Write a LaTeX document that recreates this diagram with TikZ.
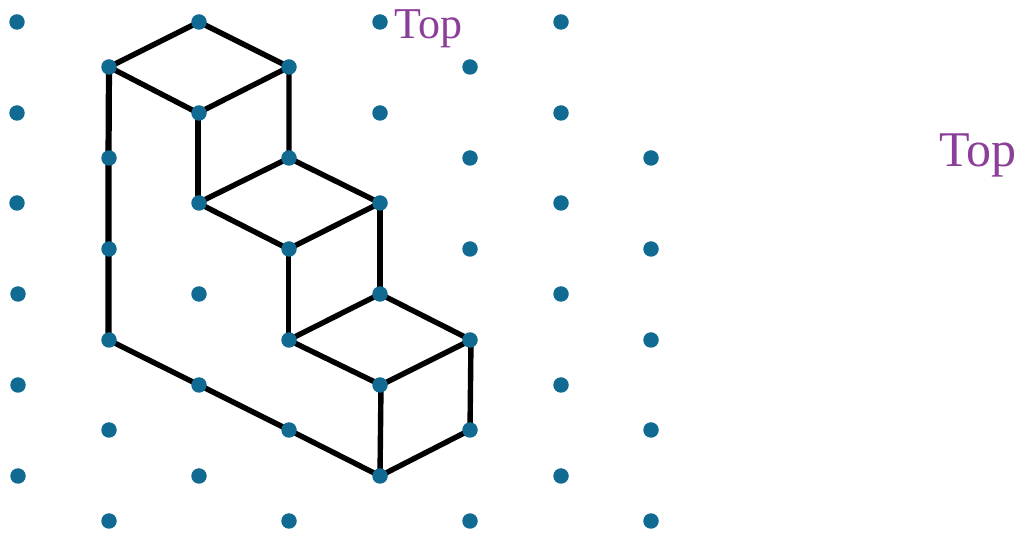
\documentclass[tikz,border=0pt]{standalone}
\usepackage{fontspec}
\setmainfont{Liberation Serif}
\definecolor{dotc}{HTML}{116A92}
\definecolor{topc}{HTML}{8B3F98}
\tikzset{x=1pt,y=-1pt,
  gdot/.style={circle,fill=dotc,inner sep=0pt,minimum size=15.5pt},
  edge/.style={draw=black,line width=5.4pt,line cap=round,line join=round},
  thickedge/.style={edge,line width=6.2pt},
  toplabel/.style={text=topc,inner sep=0pt}}
\begin{document}
\begin{tikzpicture}
\useasboundingbox (0,0) rectangle (1021,534);
\foreach \n/\x/\y in {
 a/199/22,b/109/67,c/289/67,d/198/113,e/108.5/158,f/289/158,g/198/203,h/380/203,
 i/108.5/249,j/288.5/249,k/380/294,l/108.5/340,m/288.5/340,n/471/340,o/199/385,p/381/385,
 q/289/430,r/470/430,s/380/476}
 {\coordinate (\n) at (\x,\y);}
\draw[edge] (a)--(c)--(d)--(b)--(a);
\draw[thickedge] (b)--(e)--(i)--(l);
\draw[edge] (l)--(o)--(q)--(s)--(r)--(n)--(k)--(m)--(p)--(n);
\draw[edge] (p)--(s);
\draw[edge] (c)--(f)--(h)--(j)--(g)--(f);
\draw[thickedge] (d)--(g);
\draw[edge] (j)--(m);
\draw[edge] (h)--(k);
\foreach \x/\y in {
 17/22,199/22,380/22,561/22,
 109/67,289/67,470/67,
 17/113,199/113,380/113,561/113,
 109/158,289/158,470/158,651/158,
 17/203,199/203,380/203,561/203,
 109/249,289/249,470/249,651/249,
 18/294,199/294,380/294,561/294,
 109/340,289/340,470/340,651/340,
 18/385,199/385,380/385,561/385,
 109/430,289/430,470/430,651/430,
 18/476,199/476,380/476,561/476,
 109/521,289/521,470/521,651/521}
 {\node[gdot] (dot\x-\y) at (\x,\y) {};}
\node[toplabel,font=\fontsize{44}{44}\selectfont] (top1) at (428.5,29) {Top};
\node[toplabel,font=\fontsize{50}{50}\selectfont] (top2) at (978,155) {Top};
\end{tikzpicture}
\end{document}
